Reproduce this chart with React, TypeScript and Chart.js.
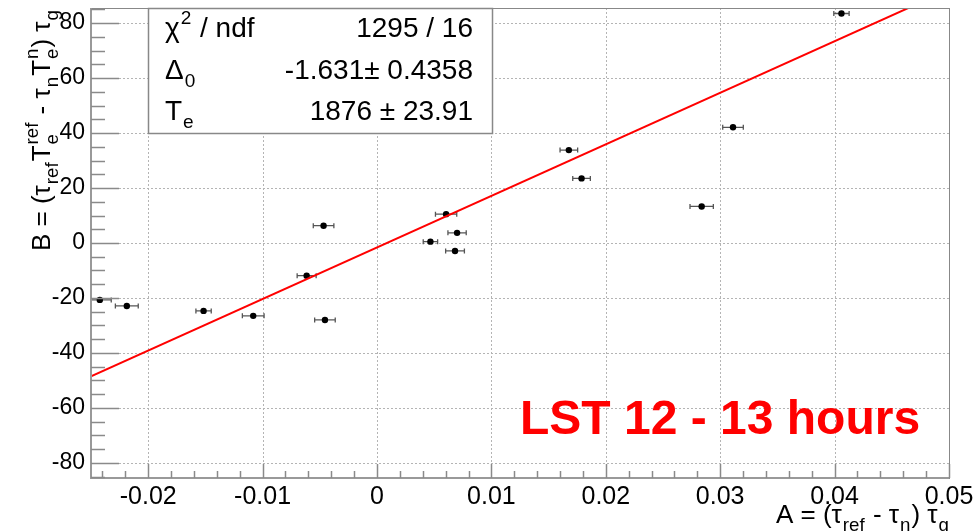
import React, { useEffect, useRef } from "react";
import { Chart, registerables } from "chart.js";

Chart.register(...registerables);

// ---- data ----
const X_VALUES = [-0.02423, -0.02187, -0.01516, -0.01082, -0.00615, -0.00467, -0.00455, 0.00604, 0.0070, 0.00467, 0.00682, 0.01677, 0.01788, 0.02838, 0.03112, 0.0406];
const Y_VALUES = [-20.7, -22.9, -24.7, -26.5, -11.9, 6.3, -28.0, 10.5, 3.7, 0.5, -2.9, 33.8, 23.5, 13.3, 42.1, 83.5];
const X_ERRORS = [0.001, 0.001, 0.00067, 0.00095, 0.00083, 0.0009, 0.0009, 0.00093, 0.0008, 0.00063, 0.00082, 0.00077, 0.00077, 0.00102, 0.0009, 0.00067];

const FIT_DELTA0 = -1.631;
const FIT_TE = 1876;

const X_TICKS = [-0.02, -0.01, 0, 0.01, 0.02, 0.03, 0.04, 0.05];
const Y_TICKS = [-80, -60, -40, -20, 0, 20, 40, 60, 80];
const X_MIN = -0.025;
const X_MAX = 0.05;
const Y_MIN = -85.5;
const Y_MAX = 85.5;

const STAT_VALUES = ["1295 / 16", "-1.631± 0.4358", "1876 ± 23.91"];
const TITLE_TEXT = "LST 12 - 13 hours";

const FONT = "'Liberation Sans', Arial, Helvetica, sans-serif";

type Seg = { t: string; sub?: string; sup?: string };

const Y_TITLE: Seg[] = [
  { t: "B = (τ", sub: "ref" },
  { t: "T", sub: "e", sup: "ref" },
  { t: " - τ", sub: "n" },
  { t: "T", sub: "e", sup: "n" },
  { t: ") τ", sub: "g" },
];
const X_TITLE: Seg[] = [
  { t: "A = (τ", sub: "ref" },
  { t: " - τ", sub: "n" },
  { t: ") τ", sub: "g" },
];

const STAT_RICH: Seg[][] = [
  [{ t: "χ", sup: "2" }, { t: " / ndf" }],
  [{ t: "Δ", sub: "0" }],
  [{ t: "T", sub: "e" }],
];

function richWidth(ctx: CanvasRenderingContext2D, segs: Seg[], size: number, subf: number) {
  let w = 0;
  for (const s of segs) {
    ctx.font = `${size}px ${FONT}`;
    w += ctx.measureText(s.t).width;
    ctx.font = `${size * subf}px ${FONT}`;
    const a = s.sub ? ctx.measureText(s.sub).width + 2 : 0;
    const b = s.sup ? ctx.measureText(s.sup).width + 2 : 0;
    w += Math.max(a, b);
  }
  return w;
}

function drawRich(ctx: CanvasRenderingContext2D, segs: Seg[], x: number, y: number, size: number, subf: number) {
  ctx.textBaseline = "alphabetic";
  ctx.textAlign = "left";
  let cx = x;
  for (const s of segs) {
    ctx.font = `${size}px ${FONT}`;
    ctx.fillText(s.t, cx, y);
    cx += ctx.measureText(s.t).width;
    ctx.font = `${size * subf}px ${FONT}`;
    let a = 0, b = 0;
    if (s.sub) {
      ctx.fillText(s.sub, cx + 1, y + size * 0.3);
      a = ctx.measureText(s.sub).width + 2;
    }
    if (s.sup) {
      ctx.fillText(s.sup, cx + 1, y - size * 0.45);
      b = ctx.measureText(s.sup).width + 2;
    }
    cx += Math.max(a, b);
  }
}

const decor = {
  id: "rootDecor",
  beforeDatasetsDraw(chart: any) {
    const ctx: CanvasRenderingContext2D = chart.ctx;
    const xs = chart.scales.x;
    const ys = chart.scales.y;
    const area = chart.chartArea;
    ctx.save();
    ctx.strokeStyle = "#b4b4b4";
    ctx.lineWidth = 1;
    ctx.setLineDash([2, 2]);
    for (const v of X_TICKS) {
      const px = Math.round(xs.getPixelForValue(v)) + 0.5;
      ctx.beginPath();
      ctx.moveTo(px, area.top);
      ctx.lineTo(px, area.bottom);
      ctx.stroke();
    }
    for (const v of Y_TICKS) {
      const py = Math.round(ys.getPixelForValue(v)) + 0.5;
      ctx.beginPath();
      ctx.moveTo(area.left, py);
      ctx.lineTo(area.right, py);
      ctx.stroke();
    }
    ctx.setLineDash([]);
    ctx.strokeStyle = "#555";
    ctx.lineWidth = 1.3;
    ctx.beginPath();
    ctx.rect(area.left, area.top, area.right - area.left, area.bottom - area.top);
    ctx.clip();
    X_VALUES.forEach((xv, i) => {
      const y = ys.getPixelForValue(Y_VALUES[i]);
      const x1 = xs.getPixelForValue(xv - X_ERRORS[i]);
      const x2 = xs.getPixelForValue(xv + X_ERRORS[i]);
      ctx.beginPath();
      ctx.moveTo(x1, y);
      ctx.lineTo(x2, y);
      ctx.moveTo(x1, y - 2.5);
      ctx.lineTo(x1, y + 2.5);
      ctx.moveTo(x2, y - 2.5);
      ctx.lineTo(x2, y + 2.5);
      ctx.stroke();
    });
    ctx.restore();
  },
  afterDatasetsDraw(chart: any) {
    const ctx: CanvasRenderingContext2D = chart.ctx;
    const xs = chart.scales.x;
    const ys = chart.scales.y;
    const area = chart.chartArea;
    ctx.save();
    ctx.strokeStyle = "#888";
    ctx.lineWidth = 1;
    ctx.strokeRect(area.left + 0.5, area.top + 0.5, area.right - area.left, area.bottom - area.top);
    ctx.strokeStyle = "#999";
    ctx.lineWidth = 2;
    ctx.beginPath();
    ctx.moveTo(area.left, area.top);
    ctx.lineTo(area.left, area.bottom);
    ctx.lineTo(area.right, area.bottom);
    ctx.stroke();
    ctx.strokeStyle = "#8a8a8a";
    ctx.lineWidth = 1.5;
    ctx.beginPath();
    for (let k = 0; k <= 40; k++) {
      const vr = Math.round((X_MIN + k * 0.002 + 0.001) * 1000) / 1000;
      if (vr < X_MIN - 1e-9 || vr > X_MAX + 1e-9) continue;
      const px = Math.round(xs.getPixelForValue(vr)) + 0.5;
      const isMajor = Math.abs(vr * 100 - Math.round(vr * 100)) < 1e-6;
      const len = isMajor ? 14 : 7;
      ctx.moveTo(px, area.bottom);
      ctx.lineTo(px, area.bottom - len);
    }
    for (let v = -85; v <= 85; v += 5) {
      const py = Math.round(ys.getPixelForValue(v)) + 0.5;
      const len = v % 20 === 0 ? 28 : 14;
      ctx.moveTo(area.left, py);
      ctx.lineTo(area.left + len, py);
    }
    ctx.stroke();

    // stats box
    const bx = 148, by = area.top, bw = 344, bh = 133 - area.top;
    ctx.fillStyle = "#fff";
    ctx.fillRect(bx, by, bw, bh);
    ctx.strokeStyle = "#888";
    ctx.lineWidth = 1.5;
    ctx.strokeRect(bx + 0.5, by + 0.5, bw, bh);
    ctx.fillStyle = "#000";
    const baselines = [37, 79, 120];
    STAT_RICH.forEach((segs, i) => {
      drawRich(ctx, segs, 165, baselines[i], 28, 0.68);
      ctx.font = `28px ${FONT}`;
      ctx.textAlign = "right";
      ctx.fillText(STAT_VALUES[i], 473, baselines[i]);
    });

    // red label
    ctx.fillStyle = "#ff0000";
    ctx.font = `bold 48px ${FONT}`;
    ctx.textAlign = "left";
    ctx.textBaseline = "alphabetic";
    ctx.fillText(TITLE_TEXT, 520, 434);

    // x title
    ctx.fillStyle = "#000";
    const xw = richWidth(ctx, X_TITLE, 26, 0.72);
    drawRich(ctx, X_TITLE, area.right - xw + 1, 523, 26, 0.72);

    // y title
    const yw = richWidth(ctx, Y_TITLE, 26, 0.72);
    ctx.save();
    ctx.translate(50, 9 + yw);
    ctx.rotate(-Math.PI / 2);
    drawRich(ctx, Y_TITLE, 0, 0, 26, 0.72);
    ctx.restore();

    ctx.restore();
  },
};

export default function App() {
  const ref = useRef<HTMLCanvasElement>(null);
  useEffect(() => {
    const points = X_VALUES.map((x, i) => ({ x, y: Y_VALUES[i] }));
    const fit = [X_MIN, X_MAX].map((x) => ({ x, y: FIT_DELTA0 + FIT_TE * x }));
    const chart = new Chart(ref.current as HTMLCanvasElement, {
      type: "scatter",
      data: {
        datasets: [
          {
            type: "line",
            label: "fit",
            data: fit,
            borderColor: "#ff0000",
            borderWidth: 2,
            pointRadius: 0,
            fill: false,
          } as any,
          {
            label: "data",
            data: points,
            backgroundColor: "#000",
            borderColor: "#000",
            pointRadius: 3.2,
            pointBorderWidth: 0,
          },
        ],
      },
      options: {
        animation: false,
        responsive: false,
        devicePixelRatio: 1,
        layout: { padding: { top: 8, right: 31, left: 0, bottom: 0 } },
        plugins: { legend: { display: false }, tooltip: { enabled: false } },
        scales: {
          x: {
            type: "linear",
            min: X_MIN,
            max: X_MAX,
            grid: { display: false, drawTicks: false },
            border: { display: false },
            afterBuildTicks: (s: any) => {
              s.ticks = X_TICKS.map((value) => ({ value }));
            },
            afterFit: (s: any) => {
              s.height = 53;
              s.paddingLeft = 0;
              s.paddingRight = 0;
            },
            ticks: {
              padding: 4,
              color: "#000",
              maxRotation: 0,
              autoSkip: false,
              font: { family: FONT, size: 25 },
              callback: (v: any) => (Number(v) === 0 ? "0" : Number(v).toFixed(2)),
            },
          },
          y: {
            type: "linear",
            min: Y_MIN,
            max: Y_MAX,
            grid: { display: false, drawTicks: false },
            border: { display: false },
            afterBuildTicks: (s: any) => {
              s.ticks = Y_TICKS.map((value) => ({ value }));
            },
            afterFit: (s: any) => {
              s.width = 91;
              s.paddingTop = 0;
              s.paddingBottom = 0;
            },
            ticks: {
              padding: 6,
              color: "#000",
              autoSkip: false,
              font: { family: FONT, size: 23 },
              callback: (v: any) => String(v),
            },
          },
        },
      },
      plugins: [decor],
    });
    return () => chart.destroy();
  }, []);
  return (
    <div style={{ position: "fixed", left: 0, top: 0, width: 980, height: 531, background: "#fff" }}>
      <canvas ref={ref} width={980} height={531} style={{ display: "block" }} />
    </div>
  );
}
